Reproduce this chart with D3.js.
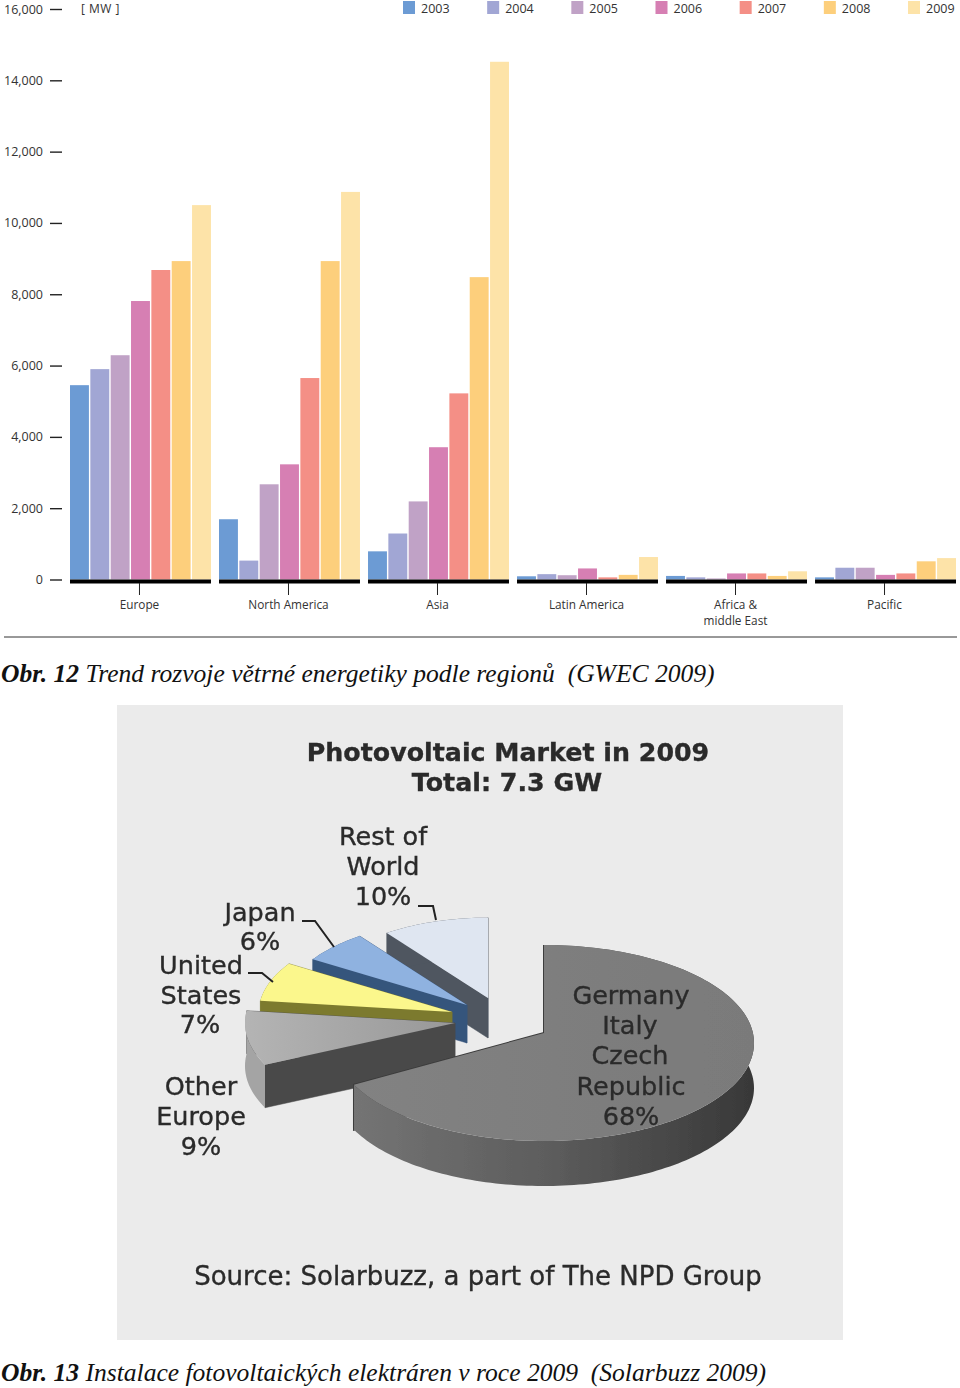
<!DOCTYPE html>
<html>
<head>
<meta charset="utf-8">
<script src="https://cdn.jsdelivr.net/npm/d3@7"></script>
<style>
  html, body { margin: 0; padding: 0; background: #fff; }
  svg { display: block; }
  .hinted { font-family: "Open Sans", sans-serif; fill: #333; }
  .caption { font-family: "Liberation Serif", serif; font-style: italic; font-size: 25.55px; fill: #111; white-space: pre; }
  .pieText { font-family: "DejaVu Sans", sans-serif; fill: #2a2a2a; stroke: #2a2a2a; stroke-width: 0.35; text-anchor: middle; }
</style>
</head>
<body>
<svg width="960" height="1388"></svg>
<script>
const years = ['2003', '2004', '2005', '2006', '2007', '2008', '2009'];
const yearColors = ['#6c9bd4', '#a1a6d4', '#c0a2c6', '#d67fb3', '#f48f86', '#fdcf7c', '#fde3a8'];
const regions = ['Europe', 'North America', 'Asia', 'Latin America', 'Africa &\nmiddle East', 'Pacific'];

// MW per region, one value per year
const europe = [5450, 5900, 6290, 7810, 8680, 8930, 10500];
const northAmerica = [1690, 530, 2670, 3230, 5650, 8930, 10870];
const asia = [790, 1290, 2190, 3710, 5220, 8480, 14520];
const latinAmerica = [90, 150, 120, 310, 60, 130, 630];
const africa = [100, 60, 30, 170, 170, 100, 230];
const pacific = [60, 330, 330, 130, 170, 510, 600];
const regionValues = [europe, northAmerica, asia, latinAmerica, africa, pacific];

const yTicks = [0, 2000, 4000, 6000, 8000, 10000, 12000, 14000, 16000];

// pie shares, in drawing order round the circle from 12 o'clock
const pieNames = ['main', 'otherEurope', 'us', 'japan', 'rest'];
const pieShares = [68, 9, 7, 6, 10];

const svg = d3.select('svg');

// BAR CHART
const y = d3.scaleLinear().domain([0, 16000]).range([579.5, 9]);
const xRegion = d3.scaleBand().domain(regions).range([70, 956]).paddingInner(0.054);
const xYear = d3.scaleBand().domain(years).range([0, xRegion.bandwidth()]).paddingInner(0.07);
const color = d3.scaleOrdinal().domain(years).range(yearColors);

const barG = svg.append('g').classed('bars', true);

const regionG = barG.selectAll('g.region')
    .data(regions)
    .join('g')
    .classed('region', true)
    .attr('transform', d => `translate(${xRegion(d)},0)`);

regionG.selectAll('rect.bar')
    .data((d, i) => regionValues[i].map((v, j) => ({year: years[j], value: v})))
    .join('rect')
    .classed('bar', true)
    .attr('x', d => xYear(d.year))
    .attr('y', d => y(d.value))
    .attr('width', xYear.bandwidth())
    .attr('height', d => y(0) - y(d.value))
    .attr('fill', d => color(d.year));

// thick black baseline under each group
regionG.append('rect')
    .attr('x', 0)
    .attr('y', y(0))
    .attr('width', xRegion.bandwidth())
    .attr('height', 4)
    .attr('fill', '#000');

const yAxis = d3.axisLeft(y)
    .tickValues(yTicks)
    .tickFormat(d3.format(','))
    .tickSize(12)
    .tickPadding(7);

barG.append('g')
    .attr('transform', 'translate(62,0)')
    .call(yAxis)
    .call(g => g.select('.domain').remove())
    .call(g => g.selectAll('line').attr('stroke', '#222').attr('stroke-width', 1.4))
    .call(g => g.selectAll('text').classed('hinted', true).attr('fill', null).style('font-size', '12.5px'));

const xAxis = d3.axisBottom(xRegion).tickSize(12).tickPadding(5).tickFormat('');

const xAxisG = barG.append('g')
    .attr('transform', 'translate(-1,583)')
    .call(xAxis)
    .call(g => g.select('.domain').remove())
    .call(g => g.selectAll('line').attr('stroke', '#222').attr('stroke-width', 1));

xAxisG.selectAll('.tick').each(function (d) {
    let label = d3.select(this).append('text')
        .classed('hinted', true)
        .attr('text-anchor', 'middle')
        .style('font-size', '11.8px');
    d.split('\n').forEach((line, i) => {
        label.append('tspan').attr('x', 0).attr('y', 26 + i * 16).text(line);
    });
});

barG.append('text')
    .classed('hinted', true)
    .attr('x', 81)
    .attr('y', 13)
    .style('font-size', '12px')
    .style('letter-spacing', '0.5px')
    .text('[ MW ]');

// legend
const legendX = d3.scalePoint().domain(years).range([403, 908]);

const legendG = svg.append('g').selectAll('g')
    .data(years)
    .join('g')
    .attr('transform', d => `translate(${legendX(d)},1)`);

legendG.append('rect')
    .attr('width', 12)
    .attr('height', 13)
    .attr('fill', d => color(d));

legendG.append('text')
    .classed('hinted', true)
    .attr('x', 18)
    .attr('y', 12)
    .style('font-size', '12.5px')
    .text(d => d);

svg.append('line')
    .attr('x1', 4).attr('x2', 957)
    .attr('y1', 637).attr('y2', 637)
    .attr('stroke', '#333');

function caption(yPos, number, rest) {
    let t = svg.append('text').classed('caption', true).attr('x', 1).attr('y', yPos);
    t.append('tspan').style('font-weight', 'bold').text(number);
    t.append('tspan').text(rest);
}
caption(682, 'Obr. 12', ' Trend rozvoje větrné energetiky podle regionů  (GWEC 2009)');
caption(1381, 'Obr. 13', ' Instalace fotovoltaických elektráren v roce 2009  (Solarbuzz 2009)');

// 3D PIE
svg.append('rect')
    .attr('x', 117).attr('y', 705)
    .attr('width', 726).attr('height', 635)
    .attr('fill', '#ebebeb');

const defs = svg.append('defs');

defs.append('filter').attr('id', 'soft')
    .append('feGaussianBlur').attr('stdDeviation', 0.7);
defs.append('filter').attr('id', 'softText')
    .append('feGaussianBlur').attr('stdDeviation', 0.45);

function gradient(id, stops) {
    let g = defs.append('linearGradient').attr('id', id);
    stops.forEach(s => g.append('stop').attr('offset', s[0]).attr('stop-color', s[1]));
}
gradient('mainWall', [[0, '#747474'], [0.5, '#5c5c5c'], [1, '#383838']]);
gradient('euroTop', [[0, '#b4b4b4'], [1, '#989898']]);
gradient('mainTop', [[0, '#828282'], [1, '#7a7a7a']]);

const rx = 210, ry = 98;
// cx, cy is the centre of the ellipse, apexY where the slice edges meet (perspective pulls it up)
const pieLayout = {
    main: {cx: 544, cy: 1043, apexY: 1033, k: 1, depth: 45, top: 'url(#mainTop)', wall: 'url(#mainWall)', side: '#3c3c3c', edge: 2},
    otherEurope: {cx: 455, cy: 1023, apexY: 1023, k: 1, depth: 43, top: 'url(#euroTop)', wall: '#a4a4a4', side: '#4a4a4a', edge: 0.5},
    us: {cx: 452, cy: 1012, apexY: 1012, k: 0.92, depth: 42, top: '#fbf78c', wall: '#7c7a2e', side: '#7c7a2e', edge: 0.5},
    japan: {cx: 467, cy: 1005, apexY: 1005, k: 0.87, depth: 38, top: '#8fb2e0', wall: '#36557c', side: '#36557c', edge: 0.5},
    rest: {cx: 488, cy: 998, apexY: 998, k: 0.82, depth: 40, top: '#dfe6f1', wall: '#4f5660', side: '#4f5660', edge: 0.5}
};

const pie = d3.pie().sort(null).value(d => d.share);
const slices = pie(pieNames.map((n, i) => ({name: n, share: pieShares[i]})));
const pathLine = d3.line();

function project(l, a, dz = 0) {
    return [l.cx + rx * l.k * Math.sin(a), l.cy - ry * l.k * Math.cos(a) + dz];
}

function arcPoints(l, a0, a1, dz = 0) {
    let n = Math.max(2, Math.ceil((a1 - a0) * 40));
    return d3.range(n + 1).map(i => project(l, a0 + (a1 - a0) * i / n, dz));
}

const pieG = svg.append('g').attr('filter', 'url(#soft)');

// back slices first, the big one goes on top
slices.slice().reverse().forEach(s => {
    let l = pieLayout[s.data.name];
    let g = pieG.append('g').classed('slice-' + s.data.name, true);

    // radial walls, the outer wall covers their far ends
    [s.startAngle, s.endAngle].forEach(a => {
        let p = project(l, a), q = project(l, a, l.depth);
        g.append('path')
            .attr('d', pathLine([[l.cx, l.apexY], p, q, [l.cx, l.apexY + l.depth]]) + 'Z')
            .attr('fill', l.side)
            .attr('stroke', l.side)
            .attr('stroke-width', l.edge);
    });

    // outer wall
    let front = arcPoints(l, s.startAngle, s.endAngle);
    let back = arcPoints(l, s.startAngle, s.endAngle, l.depth).reverse();
    g.append('path')
        .attr('d', pathLine(front.concat(back)) + 'Z')
        .attr('fill', l.wall);

    // top face
    g.append('path')
        .attr('d', pathLine([[l.cx, l.apexY]].concat(front)) + 'Z')
        .attr('fill', l.top);
});

// leader lines
const leaders = [
    [[302, 921], [315, 921], [334, 947]],
    [[248, 973], [262, 973], [273, 982]],
    [[418, 906], [433, 906], [436, 920]]
];
pieG.selectAll('path.leader')
    .data(leaders)
    .join('path')
    .classed('leader', true)
    .attr('d', d => pathLine(d))
    .attr('fill', 'none')
    .attr('stroke', '#222')
    .attr('stroke-width', 2);

const pieLabels = [
    ['Rest of', 383, 845], ['World', 383, 875], ['10%', 383, 905],
    ['Japan', 260, 921], ['6%', 260, 950],
    ['United', 201, 974], ['States', 201, 1004], ['7%', 200, 1033],
    ['Other', 201, 1095], ['Europe', 201, 1125], ['9%', 201, 1155],
    ['Germany', 631, 1004], ['Italy', 630, 1034], ['Czech', 630, 1064], ['Republic', 631, 1095], ['68%', 631, 1125]
];

const pieTextG = svg.append('g').attr('filter', 'url(#softText)');

pieTextG.selectAll('text.lab')
    .data(pieLabels)
    .join('text')
    .classed('lab pieText', true)
    .attr('x', d => d[1])
    .attr('y', d => d[2])
    .style('font-size', '25.5px')
    .text(d => d[0]);

pieTextG.append('text').classed('pieText', true)
    .attr('x', 508).attr('y', 761)
    .style('font-size', '25.3px').style('font-weight', 'bold')
    .text('Photovoltaic Market in 2009');
pieTextG.append('text').classed('pieText', true)
    .attr('x', 507).attr('y', 791)
    .style('font-size', '25.3px').style('font-weight', 'bold')
    .text('Total: 7.3 GW');
pieTextG.append('text').classed('pieText', true)
    .attr('x', 478).attr('y', 1285)
    .style('font-size', '26px')
    .text('Source: Solarbuzz, a part of The NPD Group');
</script>
</body>
</html>
